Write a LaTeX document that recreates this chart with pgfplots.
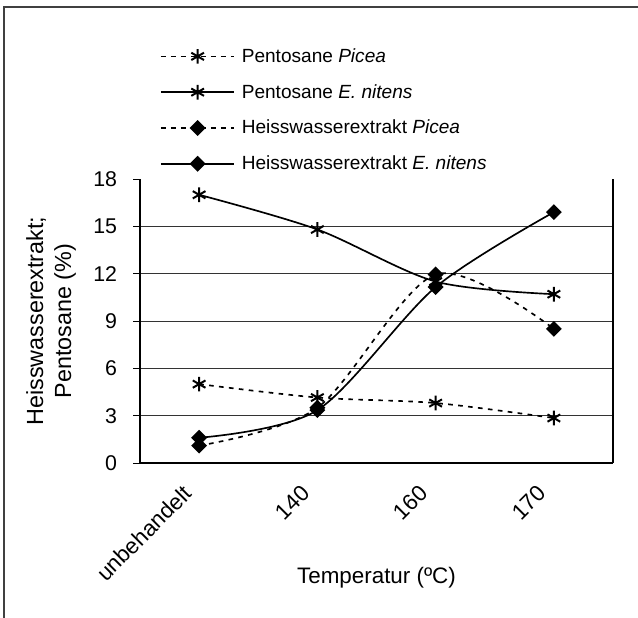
\documentclass[border=0pt]{standalone}
\usepackage{fontspec}
\setmainfont{Liberation Sans}
\usepackage{pgfplots}
\pgfplotsset{compat=1.18}

\begin{document}
\begin{tikzpicture}[font=\fontsize{14}{17}\selectfont]
\useasboundingbox (0,0) rectangle (478.5pt,462.75pt);
\draw[line width=1.1pt, black!75] (3pt,-2pt) -- (3pt,457.5pt) -- (481pt,457.5pt);
\begin{axis}[
    at={(105pt,115.5pt)}, anchor=south west,
    scale only axis,
    width=354.75pt, height=213pt,
    xmin=-0.5, xmax=3.5,
    ymin=0, ymax=18,
    axis x line*=bottom,
    axis y line*=box,
    xtick pos=bottom, ytick pos=left,
    xtick={0,1,2,3},
    xticklabels={unbehandelt,140,160,170},
    major x tick style={draw=none},
    extra x ticks={-0.5,0.5,1.5,2.5,3.5},
    extra x tick labels={},
    extra x tick style={major tick length=5pt, tick style={black, line width=0.7pt}},
    ytick={0,3,...,15},
    extra y ticks={18},
    extra y tick style={grid=none},
    ymajorgrids,
    grid style={black!80, line width=0.7pt},
    tick align=outside,
    major tick length=5pt,
    tick style={black, line width=0.7pt},
    axis line style={black, line width=0.9pt},
    /pgf/number format/assume math mode=true,
    yticklabel style={font=\fontsize{16}{19}\selectfont, inner sep=2pt, xshift=-10pt},
    xticklabel style={font=\fontsize{16.8}{20}\selectfont},
    legend style={font=\fontsize{14.3}{17}\selectfont},
    xticklabel style={xshift=-13pt, yshift=-9pt, rotate=45, anchor=north east, inner sep=1pt},
    xlabel={Temperatur (ºC)},
    xlabel style={font=\fontsize{16.8}{20}\selectfont, at={(axis description cs:0.5,-0.405)}, anchor=center},
    ylabel={Heisswasserextrakt;\\Pentosane (\%)},
    ylabel style={font=\fontsize{17.5}{21}\selectfont, align=center,
        at={(axis description cs:-0.135,0.5)}, anchor=south, inner sep=0pt},
    legend cell align=left,
    legend style={draw=none, fill=none, at={(axis description cs:0.042,1.47)}, anchor=north west,
        row sep=11pt, inner sep=0pt, column sep=3pt},
    legend image code/.code={
        \draw[mark repeat=2, mark phase=2, #1] plot coordinates {(0pt,0pt) (27.5pt,0pt) (55pt,0pt)};},
    every axis plot/.append style={black, line width=1.25pt, smooth, tension=0.5},
]
\addplot[dash pattern=on 3.5pt off 4pt, mark=asterisk, mark size=5.5pt,
    mark options={solid, line width=1.5pt}]
    coordinates {(0,5.0) (1,4.15) (2,3.8) (3,2.85)};
\addlegendentry{Pentosane \textit{Picea}}
\addplot[mark=asterisk, mark size=5.5pt, mark options={solid, line width=1.5pt}]
    coordinates {(0,17.0) (1,14.8) (2,11.5) (3,10.7)};
\addlegendentry{Pentosane \textit{E. nitens}}
\addplot[dash pattern=on 3.5pt off 4pt, mark=square*, mark size=3.6pt,
    mark options={solid, rotate=45}]
    coordinates {(0,1.1) (1,3.5) (2,11.95) (3,8.5)};
\addlegendentry{Heisswasserextrakt \textit{Picea}}
\addplot[mark=square*, mark size=3.6pt, mark options={solid, rotate=45}]
    coordinates {(0,1.6) (1,3.35) (2,11.15) (3,15.9)};
\addlegendentry{Heisswasserextrakt \textit{E. nitens}}
\end{axis}
\end{tikzpicture}
\end{document}
